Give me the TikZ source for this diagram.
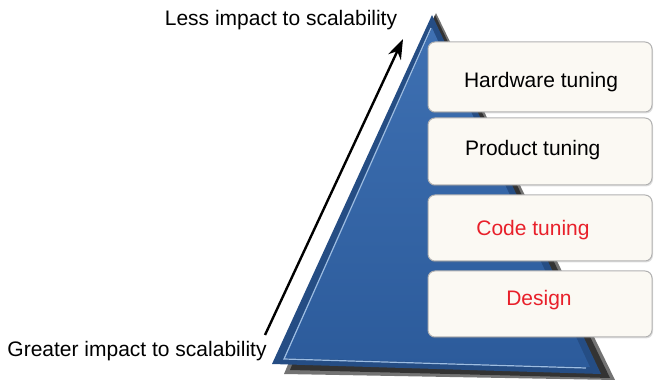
\documentclass[tikz,border=0pt]{standalone}
\usepackage{fontspec}
\setmainfont{Liberation Sans}
\usetikzlibrary{arrows.meta,shadows}
\definecolor{pyrblue}{HTML}{2C5B9B}
\definecolor{pyrlight}{HTML}{3E70B2}
\definecolor{pyrrim}{HTML}{9DBDE2}
\definecolor{tierfill}{HTML}{FBF9F3}
\definecolor{tiertext}{HTML}{E8202A}

\begin{document}
\begin{tikzpicture}[x=1pt,y=1pt,>={Stealth[length=20pt,width=14pt]},
                    font=\fontsize{21}{25}\selectfont]
  \tikzstyle{tier}=[draw=gray!60,line width=1pt,fill=tierfill,rounded corners=7pt,
                    minimum width=224pt,
                    drop shadow={opacity=0.25,shadow xshift=1pt,shadow yshift=-1.5pt}]
  \tikzstyle{slow}=[text=black]
  \tikzstyle{fast}=[text=tiertext]

  \useasboundingbox (0,0) rectangle (654,380);

  % pyramid with its shadow and bevel
  \fill[black!55] (436,367) -- (615,0) -- (284,6) -- cycle;
  \fill[black!80] (435,365) -- (610,2) -- (290,10) -- cycle;
  \fill[pyrblue!85!black] (432,365) -- (601,6) -- (272,16) -- cycle;
  \shade[top color=pyrlight,bottom color=pyrblue] (432,352) -- (590,13) -- (284,22) -- cycle;
  \draw[pyrrim,line width=1.2pt] (431,352) -- (284,21) -- (586,12);

  % tiers
  \node[tier,minimum height=70pt] (hw)     at (540,303)   {};
  \node[tier,minimum height=67pt] (prod)   at (540,228.5) {};
  \node[tier,minimum height=66pt] (code)   at (540,152)   {};
  \node[tier,minimum height=66pt] (design) at (540,76)    {};

  \node[slow,anchor=west] (hwtext)     at ([shift={(33,-5)}]hw.west)     {Hardware tuning};
  \node[slow,anchor=west] (prodtext)   at ([shift={(34,1.5)}]prod.west)  {Product tuning};
  \node[fast]             (codetext)   at ([shift={(-7,-2)}]code.center) {Code tuning};
  \node[fast]             (designtext) at ([shift={(-1,4)}]design.center) {Design};

  % impact arrow
  \node (less)    at (281,360) {Less impact to scalability};
  \node (greater) at (137,29)  {Greater impact to scalability};
  \coordinate (lowend)  at (265,45);
  \coordinate (highend) at (403,341);
  \draw[->,line width=2.4pt] (lowend) -- (highend);
\end{tikzpicture}
\end{document}
